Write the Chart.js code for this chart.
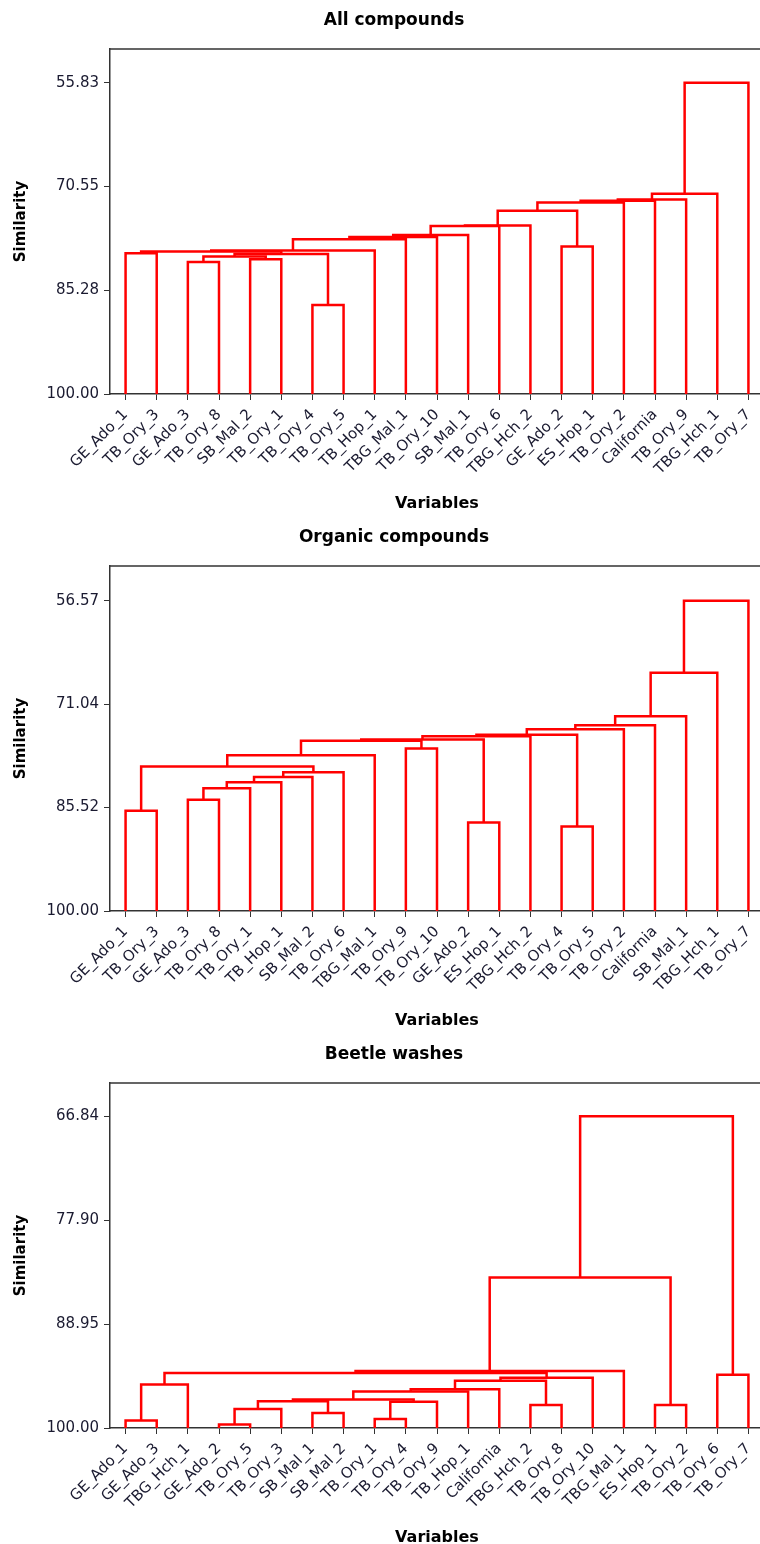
<!DOCTYPE html>
<html>
<head>
<meta charset="utf-8">
<title>Dendrograms</title>
<script src="https://cdn.jsdelivr.net/npm/chart.js@4.4.1/dist/chart.umd.min.js"></script>
<style>
  html, body { margin: 0; padding: 0; background: #fff; }
  #wrap { position: relative; width: 760px; height: 1544px; overflow: hidden; }
  #wrap canvas { position: absolute; left: 0; }
</style>
</head>
<body>
<div id="wrap">
  <canvas id="allChart" width="788" height="517" style="top:0px"></canvas>
  <canvas id="organicChart" width="788" height="517" style="top:517px"></canvas>
  <canvas id="beetleChart" width="788" height="517" style="top:1034px"></canvas>
</div>
<script>
/* ==========================
   DATA
   joins: pairs of node ids (leaves 0-20, merged clusters 21+ in order)
========================== */

// All compounds
const allLabels = ["GE_Ado_1","TB_Ory_3","GE_Ado_3","TB_Ory_8","SB_Mal_2","TB_Ory_1","TB_Ory_4","TB_Ory_5","TB_Hop_1","TBG_Mal_1","TB_Ory_10","SB_Mal_1","TB_Ory_6","TBG_Hch_2","GE_Ado_2","ES_Hop_1","TB_Ory_2","California","TB_Ory_9","TBG_Hch_1","TB_Ory_7"];
const allJoins = [[0,1],[2,3],[4,5],[22,23],[6,7],[24,25],[21,26],[27,8],[28,9],[29,10],[30,11],[31,12],[32,13],[14,15],[33,34],[35,16],[36,17],[37,18],[38,19],[39,20]];
const allSim = [80.02,81.25,80.87,80.49,87.36,80.12,79.79,79.65,78.03,77.72,77.44,76.16,76.10,79.08,74.01,72.83,72.59,72.40,71.59,55.83];
const allTicks = [55.83, 70.55, 85.28, 100.00];

// Organic compounds
const orgLabels = ["GE_Ado_1","TB_Ory_3","GE_Ado_3","TB_Ory_8","TB_Ory_1","TB_Hop_1","SB_Mal_2","TB_Ory_6","TBG_Mal_1","TB_Ory_9","TB_Ory_10","GE_Ado_2","ES_Hop_1","TBG_Hch_2","TB_Ory_4","TB_Ory_5","TB_Ory_2","California","SB_Mal_1","TBG_Hch_1","TB_Ory_7"];
const orgJoins = [[0,1],[2,3],[22,4],[23,5],[24,6],[25,7],[21,26],[27,8],[9,10],[28,29],[11,12],[30,31],[32,13],[14,15],[33,34],[35,16],[36,17],[37,18],[38,19],[39,20]];
const orgSim = [85.96,84.42,82.83,81.98,81.24,80.58,79.78,78.19,77.26,76.18,87.60,75.99,75.53,88.16,75.34,74.54,73.98,72.72,66.64,56.57];
const orgTicks = [56.57, 71.04, 85.52, 100.00];

// Beetle washes
const beetleLabels = ["GE_Ado_1","GE_Ado_3","TBG_Hch_1","GE_Ado_2","TB_Ory_5","TB_Ory_3","SB_Mal_1","SB_Mal_2","TB_Ory_1","TB_Ory_4","TB_Ory_9","TB_Hop_1","California","TBG_Hch_2","TB_Ory_8","TB_Ory_10","TBG_Mal_1","ES_Hop_1","TB_Ory_2","TB_Ory_6","TB_Ory_7"];
const beetleJoins = [[0,1],[21,2],[3,4],[23,5],[6,7],[24,25],[8,9],[27,10],[26,28],[29,11],[30,12],[13,14],[31,32],[33,15],[22,34],[35,16],[17,18],[36,37],[19,20],[38,39]];
const beetleSim = [99.20,95.37,99.64,97.97,98.40,97.15,99.04,97.22,96.97,96.12,95.88,97.56,94.97,94.66,94.15,93.93,97.56,83.99,94.34,66.84];
const beetleTicks = [66.84, 77.90, 88.95, 100.00];

const FONT = "DejaVu Sans";

/* ==========================
   HELPERS
========================== */

// turn the join list into one U-shaped line per merge
function buildLinks(n, joins, sims) {
    const xs = [], hs = [];
    for (let i = 0; i < n; i++) { xs.push(i); hs.push(100); }
    const sets = [];
    joins.forEach(function (pair, k) {
        const a = pair[0], b = pair[1], h = sims[k];
        sets.push({
            data: [
                { x: xs[a], y: hs[a] },
                { x: xs[a], y: h },
                { x: xs[b], y: h },
                { x: xs[b], y: hs[b] }
            ],
            showLine: true,
            borderColor: "#ff0000",
            borderWidth: 2.5,
            pointRadius: 0,
            fill: false,
            tension: 0
        });
        xs.push((xs[a] + xs[b]) / 2);
        hs.push(h);
    });
    return sets;
}

// top and right frame lines of the plot box
const framePlugin = {
    id: "frame",
    afterDraw: function (chart) {
        const a = chart.chartArea, ctx = chart.ctx;
        ctx.save();
        ctx.strokeStyle = "#333";
        ctx.lineWidth = 1.5;
        ctx.beginPath();
        ctx.moveTo(a.left, a.top);
        ctx.lineTo(a.right, a.top);
        ctx.lineTo(a.right, a.bottom);
        ctx.stroke();
        ctx.restore();
    }
};

function initDendro(id, title, labels, joins, sims, ticks, yTop) {
    const el = document.getElementById(id);
    if (!el) return;
    new Chart(el.getContext("2d"), {
        type: "scatter",
        data: { datasets: buildLinks(labels.length, joins, sims) },
        plugins: [framePlugin],
        options: {
            responsive: false,
            animation: false,
            layout: { padding: 0 },
            plugins: {
                legend: { display: false },
                tooltip: { enabled: false },
                title: {
                    display: true,
                    text: title,
                    color: "#000",
                    font: { family: FONT, size: 17, weight: "bold" },
                    padding: { top: 10, bottom: 18.6 }
                }
            },
            scales: {
                x: {
                    type: "linear",
                    min: -0.5,
                    max: labels.length - 0.5,
                    afterBuildTicks: function (axis) {
                        axis.ticks = labels.map(function (l, i) { return { value: i }; });
                    },
                    afterFit: function (axis) { axis.height = 123; },
                    ticks: {
                        autoSkip: false,
                        minRotation: 45,
                        maxRotation: 45,
                        padding: 6,
                        color: "#1a1a30",
                        font: { family: FONT, size: 15 },
                        callback: function (v) { return labels[v]; }
                    },
                    grid: { drawOnChartArea: false, tickLength: 6, color: "#333" },
                    border: { color: "#333", width: 1.5 },
                    title: {
                        display: true,
                        text: "Variables",
                        color: "#000",
                        font: { family: FONT, size: 16, weight: "bold" },
                        padding: { top: 0, bottom: 4 }
                    }
                },
                y: {
                    type: "linear",
                    reverse: true,
                    min: yTop,
                    max: 100,
                    afterBuildTicks: function (axis) {
                        axis.ticks = ticks.map(function (v) { return { value: v }; });
                    },
                    afterFit: function (axis) { axis.width = 110; },
                    ticks: {
                        padding: 5,
                        color: "#1a1a30",
                        font: { family: FONT, size: 15 },
                        callback: function (v) { return Number(v).toFixed(2); }
                    },
                    grid: { drawOnChartArea: false, tickLength: 6, color: "#333" },
                    border: { color: "#333", width: 1.5 },
                    title: {
                        display: true,
                        text: "Similarity",
                        color: "#000",
                        font: { family: FONT, size: 15, weight: "bold" },
                        padding: { top: 12, bottom: 0 }
                    }
                },
                // empty right-hand strip, the plot box runs past the picture edge
                yRight: {
                    type: "linear",
                    position: "right",
                    afterFit: function (axis) { axis.width = 24; },
                    ticks: { display: false },
                    grid: { display: false, drawTicks: false },
                    border: { display: false }
                }
            }
        }
    });
}

/* ==========================
   CHARTS
========================== */
initDendro("allChart", "All compounds", allLabels, allJoins, allSim, allTicks, 51.04);
initDendro("organicChart", "Organic compounds", orgLabels, orgJoins, orgSim, orgTicks, 51.70);
initDendro("beetleChart", "Beetle washes", beetleLabels, beetleJoins, beetleSim, beetleTicks, 63.29);
</script>
</body>
</html>
